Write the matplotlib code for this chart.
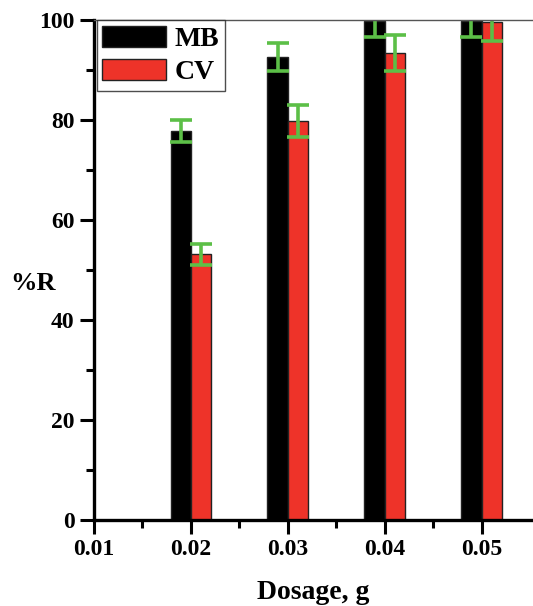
import numpy as np
import matplotlib as mpl
import matplotlib.pyplot as plt
from matplotlib.ticker import MultipleLocator, FixedLocator

# ------------ Data ------------
DOSAGE = [0.02, 0.03, 0.04, 0.05]        # g
MB     = [77.8, 92.6, 99.8, 99.8]        # %R
MB_ERR = [2.2, 2.8, 3.3, 3.3]
CV     = [53.2, 79.8, 93.3, 99.6]        # %R
CV_ERR = [2.1, 3.2, 3.6, 3.8]

BAR_W = 0.0021
ERR_COLOR = "#5cbf47"

mpl.rcParams.update({
    "font.family": "Liberation Serif",
    "font.weight": "bold",
    "axes.labelweight": "bold",
})

fig = plt.figure(figsize=(5.33, 6.06), dpi=100)
ax = fig.add_axes([0.1764, 0.1419, 0.8236, 0.8251])

x = np.array(DOSAGE)
err_kw = dict(ecolor=ERR_COLOR, elinewidth=2.6, capsize=8, capthick=2.6)
ax.bar(x - BAR_W / 2, MB, width=BAR_W, color="black", edgecolor="#222222",
       linewidth=1.0, yerr=MB_ERR, error_kw=err_kw, label="MB")
ax.bar(x + BAR_W / 2, CV, width=BAR_W, color="#ee3329", edgecolor="#222222",
       linewidth=1.0, yerr=CV_ERR, error_kw=err_kw, label="CV")

ax.set_xlim(0.01, 0.0553)
ax.set_ylim(0, 100)
ax.set_xticks([0.01, 0.02, 0.03, 0.04, 0.05])
ax.set_xticklabels(["0.01", "0.02", "0.03", "0.04", "0.05"])
ax.xaxis.set_minor_locator(FixedLocator([0.015, 0.025, 0.035, 0.045]))
ax.set_yticks([0, 20, 40, 60, 80, 100])
ax.yaxis.set_minor_locator(MultipleLocator(10))

ax.tick_params(axis="both", which="major", direction="out", length=10,
               width=2.2, labelsize=17, pad=4)
ax.tick_params(axis="both", which="minor", direction="out", length=6,
               width=2.2)
for lab in ax.get_xticklabels() + ax.get_yticklabels():
    lab.set_fontweight("bold")

for s in ("left", "bottom"):
    ax.spines[s].set_linewidth(2.4)
ax.spines["right"].set_visible(False)
ax.spines["top"].set_linewidth(1.0)
ax.spines["top"].set_color("#555555")

ax.set_xlabel("Dosage, g", fontsize=20, labelpad=14)
ax.set_ylabel("%R", fontsize=19, rotation=0, va="center", ha="center")
ax.yaxis.set_label_coords(-0.14, 0.473)

leg = ax.legend(loc="upper left", bbox_to_anchor=(0.006, 1.0),
                borderaxespad=0, fontsize=20, handlelength=2.3,
                handleheight=0.8, frameon=True, fancybox=False,
                borderpad=0.2, labelspacing=0.25, handletextpad=0.3)
leg.get_frame().set_edgecolor("#222222")
leg.get_frame().set_linewidth(1.0)
for t in leg.get_texts():
    t.set_fontweight("bold")

fig.savefig("out.png", dpi=100)
